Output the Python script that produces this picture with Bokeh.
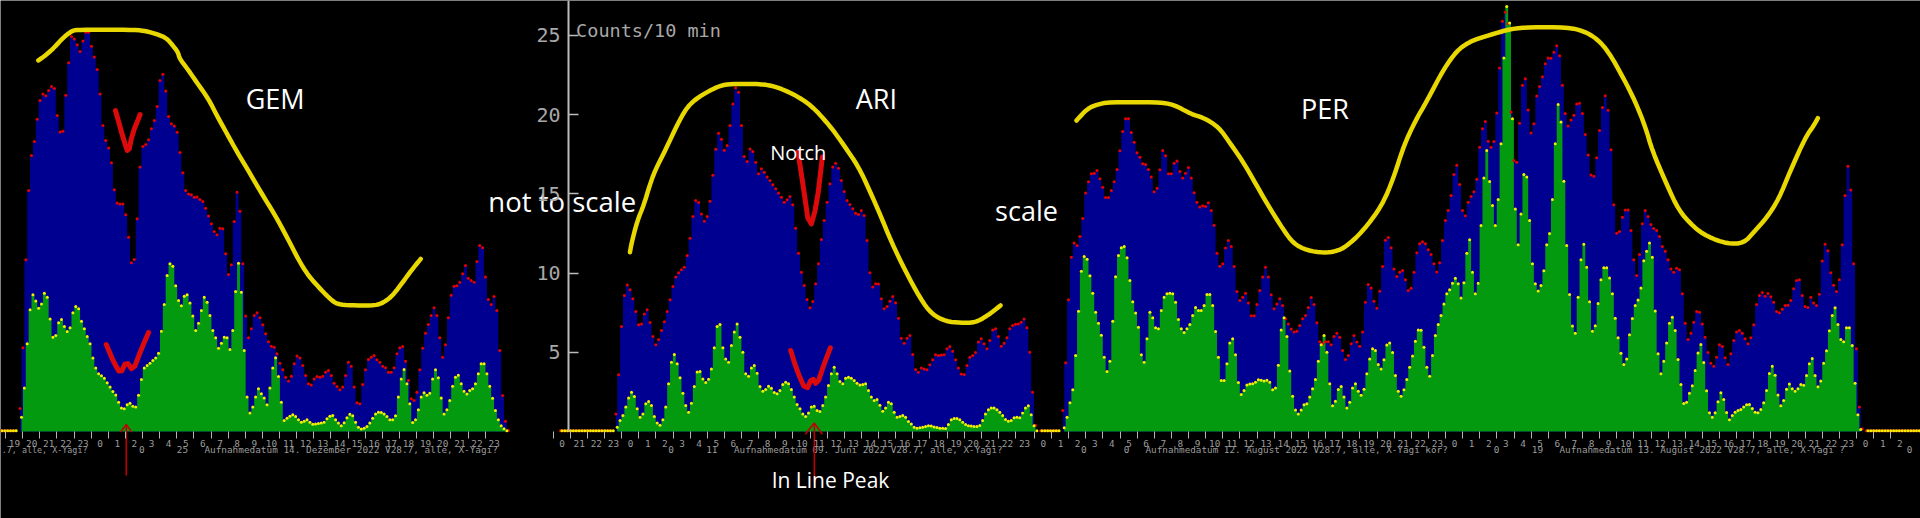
import numpy as np
from bokeh.plotting import figure
from bokeh.embed import file_html
from bokeh.resources import INLINE
from bokeh.models import Range1d, LinearAxis, FixedTicker
from bokeh.core.properties import value

# ---- counts per 10 minutes, read bin by bin ----
gem_blue = [1.45,5.28,10.83,15.20,17.41,18.30,19.70,20.88,21.30,21.18,21.51,21.77,21.64,19.94,18.89,18.95,21.22,23.26,24.92,24.77,24.40,23.97,24.63,25.19,25.19,24.31,23.62,22.84,21.30,19.31,18.36,17.88,16.95,15.25,14.41,14.36,14.36,13.67,12.26,10.64,10.85,13.42,16.68,17.98,18.11,18.40,19.10,19.62,20.50,22.14,22.54,21.49,19.87,19.41,19.28,18.88,17.60,16.32,15.20,14.99,14.93,14.78,14.80,14.64,14.51,14.09,13.59,13.10,12.62,12.41,12.83,12.79,11.21,9.91,10.52,13.25,15.10,13.90,10.58,7.28,5.91,6.48,7.32,7.49,7.17,6.73,6.16,5.66,5.38,5.32,4.90,4.31,3.89,3.43,3.18,3.49,4.27,4.77,4.63,4.16,3.53,3.01,2.94,3.32,3.47,3.43,3.49,3.74,3.85,3.53,3.05,2.84,2.63,2.80,3.53,4.37,4.12,2.80,1.81,1.75,2.97,3.89,4.54,4.69,4.79,4.52,4.37,4.12,4.02,3.74,3.74,4.02,4.90,5.28,5.36,4.44,3.22,2.06,1.96,2.48,3.89,5.26,6.20,6.75,7.32,7.80,7.32,5.91,4.69,5.47,7.17,8.60,9.17,9.19,9.42,9.95,10.47,9.67,9.53,9.42,10.73,11.73,11.59,9.74,8.33,8.01,8.52,7.63,5.11,2.27,0.65,0.06]
gem_green = [0.90,2.75,5.53,7.68,8.62,8.24,7.78,8.05,8.73,8.47,7.09,5.95,6.06,6.86,7.07,6.62,6.31,6.54,7.49,7.89,7.74,6.96,6.48,5.99,5.53,4.63,4.00,3.64,3.51,3.36,3.07,2.80,2.52,2.31,1.85,1.49,1.43,1.68,1.79,1.60,1.54,2.29,3.28,4.00,4.16,4.31,4.48,4.63,4.94,6.33,8.01,9.84,10.58,10.43,9.19,8.26,7.93,8.54,8.62,8.10,7.28,6.37,6.83,7.63,8.47,8.16,7.32,6.37,5.91,5.26,5.57,5.95,5.91,5.17,6.37,8.83,10.62,8.79,5.11,2.17,1.16,1.54,2.17,2.69,2.38,2.12,1.68,2.75,4.00,4.65,3.47,1.85,0.69,0.84,0.97,1.05,0.95,0.74,0.59,0.65,0.74,0.59,0.46,0.48,0.50,0.53,0.59,0.80,0.97,1.01,0.74,0.53,0.36,0.55,0.86,1.09,0.99,0.59,0.27,0.15,0.21,0.32,0.53,0.84,1.11,1.22,1.20,1.11,0.95,0.74,0.74,0.99,2.17,3.32,3.91,3.01,1.75,0.57,0.74,1.37,2.17,2.44,2.29,2.42,3.32,3.89,3.39,2.12,1.11,1.37,1.96,2.86,3.43,3.55,3.01,2.54,2.36,2.59,2.69,3.01,3.64,4.27,4.27,3.64,2.86,2.10,1.32,0.74,0.36,0.17,0.04]
ari_blue = [1.11,3.58,6.62,8.58,9.25,8.94,8.37,7.57,6.73,6.79,7.42,7.68,6.88,5.99,5.47,5.80,6.37,6.92,7.57,8.31,9.15,9.74,10.01,10.20,10.37,11.10,12.20,13.56,14.57,14.45,13.73,13.27,13.56,14.53,16.17,17.81,18.82,18.44,17.75,18.04,19.31,20.67,21.68,21.41,19.31,17.35,17.03,17.83,17.67,16.99,16.26,16.57,16.36,16.05,15.84,15.56,15.31,15.04,14.78,14.47,14.62,14.83,14.30,12.83,11.25,10.05,9.21,8.33,7.80,8.20,9.32,10.58,12.11,13.31,14.47,15.63,16.68,16.93,16.61,15.84,15.14,14.57,14.32,14.05,13.77,13.69,13.94,13.63,12.05,10.01,9.11,9.32,9.30,8.37,7.74,7.89,8.22,8.52,8.12,7.15,5.89,5.57,5.89,6.06,4.86,3.91,3.74,4.00,3.95,3.89,4.21,4.52,4.84,4.79,4.82,4.84,5.22,5.36,5.07,4.52,4.00,3.62,3.60,4.16,4.69,4.79,4.98,5.64,5.85,5.53,5.22,5.74,6.41,6.48,5.99,5.38,5.57,5.91,6.48,6.69,6.77,6.79,6.90,7.09,6.54,5.00,2.48,0.40]
ari_green = [0.27,0.69,1.01,1.54,2.12,2.48,2.21,1.43,0.90,1.11,1.75,1.89,1.64,0.95,0.53,0.40,0.74,1.54,3.01,4.37,4.86,4.27,3.39,2.42,1.64,1.22,1.79,2.84,3.76,3.79,3.32,3.09,3.30,3.95,5.28,6.62,6.75,5.28,4.58,4.37,5.43,6.27,6.79,5.95,5.00,3.64,3.49,4.00,4.16,3.68,2.84,2.54,2.65,2.86,2.73,2.46,2.38,2.59,2.97,3.11,3.01,2.65,2.17,1.70,1.43,1.11,0.95,1.16,1.54,1.60,1.32,1.26,1.64,2.17,2.90,3.64,4.06,3.64,3.15,3.01,3.36,3.43,3.36,3.22,3.05,2.94,2.97,3.01,2.59,2.17,1.96,2.02,1.66,1.28,1.49,1.85,1.75,1.22,0.90,0.95,1.01,0.90,0.63,0.48,0.27,0.21,0.23,0.27,0.32,0.36,0.34,0.29,0.25,0.21,0.21,0.19,0.44,0.74,0.82,0.82,0.74,0.59,0.44,0.36,0.34,0.32,0.32,0.38,0.69,1.11,1.37,1.49,1.49,1.37,1.22,1.01,0.76,0.65,0.69,0.86,0.90,0.86,1.16,1.49,1.62,1.05,0.36,0.04]
per_blue = [1.32,4.33,8.31,11.00,11.90,11.73,12.30,13.44,15.04,15.75,16.26,16.30,16.47,15.94,15.41,14.76,14.76,15.20,15.75,16.53,17.71,18.93,19.73,19.73,18.86,18.25,17.58,17.31,16.89,16.85,16.53,16.05,15.12,15.35,16.51,17.73,17.39,16.26,16.26,16.93,17.06,16.40,16.00,16.30,16.66,16.00,15.06,14.47,14.17,14.24,14.20,14.43,13.94,13.02,11.25,10.43,10.58,11.57,12.05,11.67,10.41,8.83,8.26,8.47,8.73,8.10,7.30,7.30,8.01,8.90,9.74,10.37,9.74,8.62,7.74,8.05,8.37,7.95,7.11,6.79,6.46,6.27,6.33,6.69,7.11,7.32,7.82,8.45,8.01,6.86,5.66,5.53,5.66,5.66,5.47,5.99,6.20,5.95,5.11,4.54,4.79,5.53,6.06,5.64,5.38,6.27,8.16,9.27,9.06,8.22,7.78,8.85,10.41,12.07,12.24,11.59,10.26,9.78,10.05,10.16,9.57,8.90,9.04,10.05,11.27,11.84,11.97,11.84,11.46,11.17,10.58,10.07,10.64,12.05,13.31,13.94,14.89,16.21,16.80,15.58,13.94,13.61,14.47,14.83,15.12,15.92,
            17.94,19.10,19.56,18.32,17.94,18.30,20.10,22.94,25.89,26.45,25.72,20.15,17.10,16.99,19.45,21.85,22.25,20.29,18.84,19.41,21.16,21.77,22.38,23.20,23.57,23.55,23.93,24.33,23.70,21.85,20.06,19.28,19.66,19.96,20.67,20.71,20.06,18.74,17.45,16.19,16.11,17.27,18.99,20.44,21.18,20.27,17.77,14.30,12.51,12.62,13.52,13.98,13.98,12.68,10.83,9.84,11.17,13.10,13.94,13.56,13.06,12.81,12.68,12.30,11.67,11.38,10.83,10.26,10.05,10.30,10.20,8.69,6.83,5.80,6.20,6.90,7.57,7.53,6.79,5.95,4.98,4.31,4.12,4.69,5.47,5.36,4.65,4.23,4.90,5.74,6.27,6.37,6.20,5.85,5.53,5.91,6.73,8.01,8.58,8.77,8.54,8.71,8.50,8.16,7.57,7.49,7.72,7.95,7.97,8.26,9.00,9.53,9.57,8.58,7.89,7.82,8.47,8.10,7.95,8.66,10.75,11.82,11.40,10.01,9.23,8.83,9.57,11.78,14.89,16.74,15.23,10.58,5.22,1.54,0.17]
per_green = [0.23,0.90,1.81,2.63,4.79,7.59,10.11,11.04,10.87,9.82,8.73,7.53,6.83,6.08,4.69,3.79,4.44,6.96,9.76,11.10,11.59,11.67,10.96,9.53,8.18,7.47,6.58,4.84,4.37,5.85,7.53,7.17,6.54,6.48,7.63,8.47,8.69,8.73,8.69,8.16,7.07,6.48,6.25,6.48,6.75,7.32,7.82,7.63,7.63,7.95,8.64,8.64,7.95,6.31,4.69,3.22,3.22,4.27,5.59,5.85,4.84,3.09,2.33,2.59,2.94,2.99,3.01,3.11,3.26,3.24,3.18,3.24,3.11,2.63,2.75,4.18,6.41,7.17,5.99,3.81,2.23,1.35,1.11,1.35,1.68,1.75,2.17,2.69,3.28,4.44,5.47,6.06,5.00,3.01,1.62,1.91,2.65,2.84,2.17,1.49,1.85,2.75,3.01,2.54,2.29,2.67,3.64,4.58,5.22,5.11,4.23,3.95,4.52,5.45,5.59,4.98,3.53,2.54,2.23,2.63,3.28,4.06,4.77,5.70,6.41,6.39,5.32,4.06,3.49,4.79,6.06,6.75,7.32,8.05,8.69,8.94,9.36,9.67,9.32,8.43,9.38,11.25,12.09,10.05,8.69,9.36,
             13.00,16.00,17.73,15.77,14.26,13.00,14.64,18.15,23.57,26.81,25.78,19.73,14.03,11.78,13.73,16.21,16.05,13.31,10.58,9.32,8.87,9.21,10.14,11.78,12.49,14.64,18.15,20.63,19.52,15.79,11.73,8.64,6.65,6.20,8.47,10.83,11.82,10.37,8.18,6.33,6.67,8.08,9.57,10.33,10.33,9.69,8.69,7.15,5.91,4.94,4.23,4.58,6.10,7.13,7.95,8.29,9.06,10.77,11.38,11.90,11.00,7.61,4.90,3.64,4.44,5.59,6.83,7.21,6.37,4.54,2.97,1.77,1.85,2.42,2.88,3.85,4.96,5.49,4.35,2.57,1.18,0.90,1.18,1.87,2.44,2.02,1.20,0.74,1.01,1.22,1.32,1.39,1.54,1.68,1.70,1.45,1.22,1.18,1.39,1.81,2.59,3.66,4.12,3.55,2.31,1.62,1.96,2.67,2.99,2.69,2.54,2.69,2.97,2.92,3.53,4.27,4.61,3.53,2.82,3.18,4.31,5.09,6.35,7.32,7.80,6.75,5.80,5.66,6.54,6.54,5.43,3.05,1.05,0.13]
zero_level = 0.04

# hour labels under each of the day blocks
gem_hours = ["19","20","21","22","23"] + [str(h) for h in range(24)]
ari_hours = ["0","21","22","23"] + [str(h) for h in range(24)]
per_hours = [str(h) for h in range(24)] * 2 + [str(h) for h in range(3)]

# hand-drawn overlays (bin, counts)
gem_curve_x = [13.26,15.99,18.95,21.91,24.87,26.64,35.52,47.37,50.92,54.47,58.02,60.39,62.17,62.76,65.72,68.68,72.82,75.78,79.34,82.89,86.44,91.18,95.91,100.65,104.20,107.76,112.49,116.64,119.01,124.33,131.44,134.40,137.36,140.91,143.87,147.19]
gem_curve_y = [23.41,23.76,24.25,24.84,25.26,25.34,25.34,25.34,25.26,25.09,24.84,24.35,23.93,23.51,22.82,22.04,20.99,19.94,18.78,17.63,16.57,15.10,13.73,12.16,10.89,9.84,8.90,8.16,8.00,7.95,7.95,8.16,8.58,9.42,10.16,10.89]
ari_curve_x = [220.48,220.99,222.90,225.45,227.36,229.27,233.09,236.91,240.10,243.28,248.37,252.83,257.29,266.21,271.30,277.67,284.04,290.41,295.50,300.60,304.42,308.24,312.06,317.16,322.25,326.07,331.17,336.26,341.36,345.81,350.27]
ari_curve_y = [11.31,11.84,13.21,14.36,15.52,16.47,17.83,19.31,20.36,20.95,21.51,21.87,21.93,21.93,21.77,21.30,20.57,19.31,18.04,16.68,15.20,13.63,11.95,10.05,8.37,7.42,6.94,6.86,6.86,7.32,7.95]
per_curve_x = [376.88,380.62,384.12,388.20,405.13,410.97,416.81,421.48,426.73,430.82,434.91,438.99,443.66,449.50,453.00,457.67,463.51,467.60,471.10,476.94,483.94,488.03,491.53,495.62,499.70,505.54,510.21,514.30,518.39,523.06,528.90,535.90,548.75,554.58,559.25,563.34,568.59,572.68,576.18,578.52,583.77,587.86,593.11,597.78,604.79,610.63,614.13,618.80,622.89,626.97,632.23,635.15,636.55]
per_curve_y = [19.62,20.36,20.63,20.78,20.78,20.63,20.04,19.79,19.20,18.15,17.10,15.84,14.36,12.68,11.84,11.42,11.27,11.36,11.63,12.58,14.26,16.05,18.04,19.62,20.88,22.88,24.04,24.56,24.84,25.09,25.40,25.51,25.51,25.26,24.77,23.93,22.25,20.78,19.20,17.73,15.52,13.94,12.89,12.30,11.84,11.88,12.58,13.52,14.68,16.47,18.57,19.31,19.77]
gem_v_x = [40.26,43.22,44.76,46.18,48.90]
gem_v_y = [20.25,18.36,17.52,18.78,20.00]
gem_w_x = [37.06,39.67,42.04,44.05,46.42,49.14,51.87]
gem_w_y = [5.49,4.37,3.64,4.44,3.81,5.11,6.25]
ari_v_x = [279.33,280.86,283.40,285.95,287.86]
ari_v_y = [17.62,15.84,12.68,14.36,17.31]
ari_w_x = [276.78,278.95,282.13,284.29,285.95,288.50,290.66]
ari_w_y = [5.11,3.85,2.54,3.43,2.90,4.27,5.28]

# ---- layout: one bin is BIN_PX wide, one count COUNT_PX tall on the page ----
BIN_PX = 2.855
COUNT_PX = 15.85
BASE_PY = 431.0
W, H = 1920, 518

def bx(px):
    return px / BIN_PX

def cy(py):
    return (BASE_PY - py) / COUNT_PX

def rounded(xs, ys, passes=2):
    """Round the corners of a hand-drawn stroke."""
    xs, ys = np.asarray(xs, float), np.asarray(ys, float)
    for _ in range(passes):
        qx, qy = 0.75 * xs[:-1] + 0.25 * xs[1:], 0.75 * ys[:-1] + 0.25 * ys[1:]
        rx, ry = 0.25 * xs[:-1] + 0.75 * xs[1:], 0.25 * ys[:-1] + 0.75 * ys[1:]
        nx, ny = np.empty(2 * len(qx)), np.empty(2 * len(qy))
        nx[0::2], nx[1::2], ny[0::2], ny[1::2] = qx, rx, qy, ry
        xs = np.concatenate(([xs[0]], nx, [xs[-1]]))
        ys = np.concatenate(([ys[0]], ny, [ys[-1]]))
    return xs, ys

GEM_X0, ARI_X0, PER_X0 = 19.6, 615.3, 1062.3

p = figure(width=W, height=H, output_backend="svg", toolbar_location=None,
           x_range=Range1d(bx(0), bx(W)), y_range=Range1d(cy(H), cy(0)),
           x_axis_location=None, y_axis_location=None,
           background_fill_color="black", border_fill_color="black",
           outline_line_color=None, min_border=0)
p.grid.visible = False

BLUE, GREEN, RED, YEL = "#000090", "#049a10", "#e80000", "#f2f200"
DOT = 3.0
panels = [(GEM_X0, gem_blue, gem_green), (ARI_X0, ari_blue, ari_green), (PER_X0, per_blue, per_green)]
for x0, blue, green in panels:
    xb = bx(x0) + np.arange(len(blue))
    xg = bx(x0) + 0.5 + np.arange(len(green))
    p.varea_step(x=xb, y1=np.zeros(len(blue)), y2=blue, step_mode="center", fill_color=BLUE)
    p.varea_step(x=xg, y1=np.zeros(len(green)), y2=green, step_mode="center", fill_color=GREEN)
for x0, blue, green in panels:
    xb = bx(x0) + np.arange(len(blue))
    xg = bx(x0) + 0.5 + np.arange(len(green))
    p.scatter(xb, blue, size=DOT, fill_color=RED, line_color=None)
    p.scatter(xg, green, size=DOT, fill_color=YEL, line_color=None)

# empty stretches around the blocks
for start_px, stop_px in [(0, GEM_X0), (560, ARI_X0), (1040, PER_X0), (1866, 1925)]:
    n = int((stop_px - start_px) / BIN_PX)
    zx = bx(start_px) + np.arange(n)
    p.scatter(zx, np.full(n, zero_level), size=DOT, fill_color=RED, line_color=None)
    p.scatter(zx + 0.5, np.full(n, zero_level), size=DOT, fill_color=YEL, line_color=None)

# hour ticks and hour labels: one real axis, minor ticks on the hour, labels mid-hour
GREY = "#9c9c9c"
HOUR_BINS = 6
tick_starts = [(5.0, gem_hours), (552.6, ari_hours), (1033.9, per_hours)]
hour_ticks, mid_ticks, overrides = [], [], {}
for start, hours in tick_starts:
    for i, h in enumerate(hours):
        t = bx(start) + i * HOUR_BINS
        hour_ticks.append(t)
        m = round(t + bx(9.0), 3)
        mid_ticks.append(m)
        overrides[m] = h
x_ax = LinearAxis(fixed_location=0, ticker=FixedTicker(ticks=mid_ticks, minor_ticks=hour_ticks),
                  axis_line_color=None, major_tick_line_color=None, major_tick_in=0, major_tick_out=0,
                  minor_tick_in=0, minor_tick_out=7, minor_tick_line_color="#b4b4b4", minor_tick_line_width=1,
                  major_label_overrides=overrides, major_label_standoff=1,
                  major_label_text_font="DejaVu Sans Mono", major_label_text_font_size="9.4px",
                  major_label_text_color=GREY)
p.add_layout(x_ax, "below")

# y axis of the middle block
y_ax = LinearAxis(fixed_location=bx(568), ticker=FixedTicker(ticks=[5, 10, 15, 20, 25]),
                  bounds=(0, 28), axis_line_color="#bcbcbc", axis_line_width=2,
                  major_tick_in=10, major_tick_out=0, major_tick_line_color="#bcbcbc",
                  major_tick_line_width=1.5, minor_tick_line_color=None,
                  major_label_text_font="DejaVu Sans Mono", major_label_text_font_size="20px",
                  major_label_text_color="#a8a8a8", major_label_standoff=8,
                  major_label_text_baseline="bottom")
p.add_layout(y_ax, "left")

# captions
caps = [(".7, alle, X-Yagi?", 87, "right", "8.4px"),
        ("Aufnahmedatum 14. Dezember 2022 V28.7, alle, X-Yagi?", 203.9, "left", "9.4px"),
        ("Aufnahmedatum 09. Juni 2022 V28.7, alle, X-Yagi?", 733.5, "left", "9.3px"),
        ("Aufnahmedatum 12. August 2022 V28.7, alle, X-Yagi kor?", 1145, "left", "9.3px"),
        ("Aufnahmedatum 13. August 2022 V28.7, alle, X-Yagi ?", 1559, "left", "9.3px")]
for txt, px, al, size in caps:
    p.text([bx(px)], [cy(449)], text=[txt], text_font=value("DejaVu Sans Mono"),
           text_font_size=value(size), text_color=GREY, text_align=al, text_baseline="middle")
nums = [("0", 141.3), ("25", 181.9), ("0", 670.5), ("11", 711.3), ("0", 1083.3), ("0", 1126),
        ("0", 1496), ("19", 1537), ("0", 1909)]
p.text([bx(n[1]) for n in nums], [cy(449)] * len(nums), text=[n[0] for n in nums],
       text_font=value("DejaVu Sans Mono"), text_font_size=value("9.4px"), text_color=GREY,
       text_align="center", text_baseline="middle")
p.text([bx(575.6)], [cy(30)], text=["Counts/10 min"], text_font=value("DejaVu Sans Mono"),
       text_font_size=value("18.5px"), text_color="#a8a8a8", text_align="left", text_baseline="middle")

# overlays
YCURVE = "#e8d800"
for cx, cv in [(gem_curve_x, gem_curve_y), (ari_curve_x, ari_curve_y), (per_curve_x, per_curve_y)]:
    sx, sv = rounded(cx, cv)
    p.line(sx, sv, line_color=YCURVE, line_width=4.5, line_join="round", line_cap="round")
RCURVE = "#dc0a0a"
for cx, cv in [(gem_v_x, gem_v_y), (gem_w_x, gem_w_y), (ari_v_x, ari_v_y), (ari_w_x, ari_w_y)]:
    sx, sv = rounded(cx, cv, passes=1)
    p.line(sx, sv, line_color=RCURVE, line_width=5, line_join="round", line_cap="round")

ARROW = "#c00000"
for sx, top, tail, hx0, hx1, hy in [(44.05, 0.44, -2.78, 42.04, 45.95, -0.04),
                                    (285.06, 0.53, -3.20, 281.87, 287.86, -0.17)]:
    p.line([sx, sx], [tail, top], line_color=ARROW, line_width=1.6)
    p.line([hx0, sx, hx1], [hy, top, hy], line_color=ARROW, line_width=1.6)

labels = [("GEM", 274.7, 98, "27px"), ("ARI", 875.8, 98, "27px"), ("PER", 1324.5, 108, "27px"),
          ("not to scale", 561.7, 201, "27.5px"), ("scale", 1026, 210, "27px"),
          ("Notch", 797.7, 151.5, "20px"), ("In Line Peak", 830, 479, "21px")]
for txt, px, py, size in labels:
    p.text([bx(px)], [cy(py)], text=[txt], text_font=value("Open Sans"), text_font_size=value(size),
           text_color="white", text_align="center", text_baseline="middle")

PAGE = """<!DOCTYPE html>
<html lang="en"><head><meta charset="utf-8"><title>{{ title }}</title>
{{ bokeh_css }}{{ bokeh_js }}
<style>html, body { background: #000; margin: 0; overflow: hidden; }</style>
</head><body>{{ plot_div }}{{ plot_script }}</body></html>"""
open("out.html", "w").write(file_html(p, INLINE, template=PAGE))
